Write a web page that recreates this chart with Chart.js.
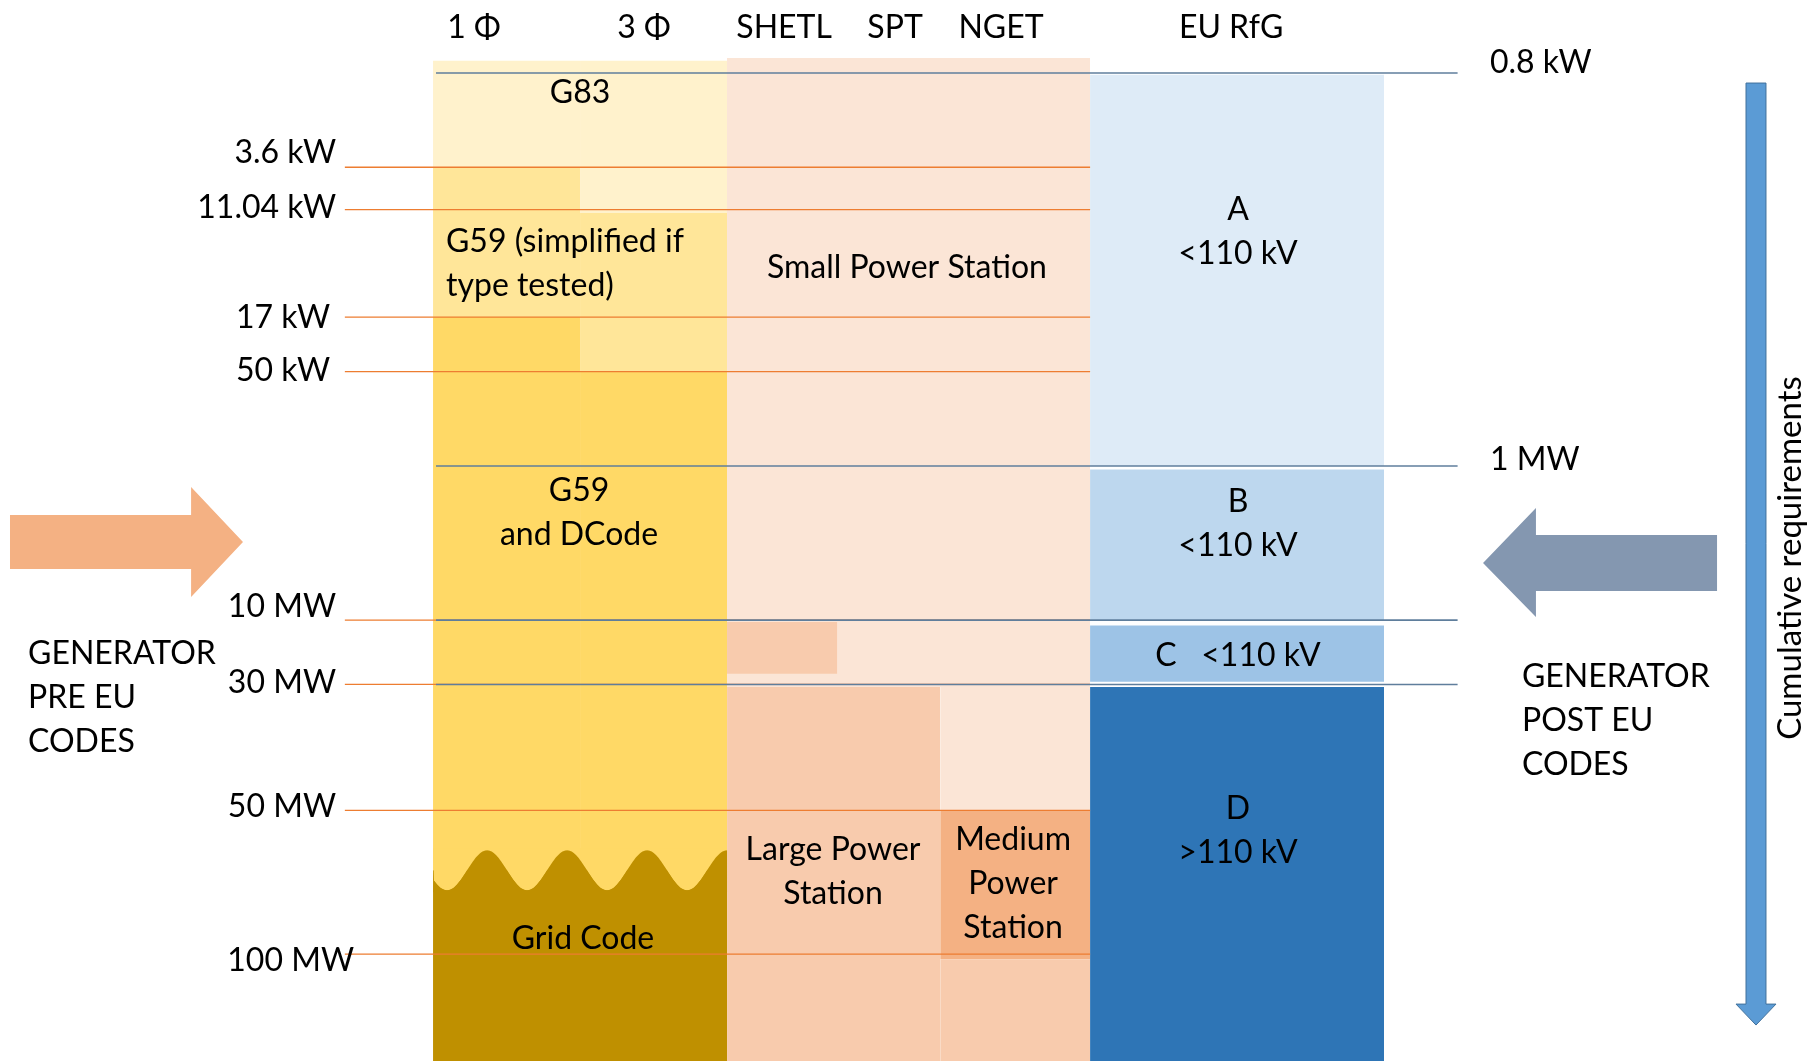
<!DOCTYPE html>
<html>
<head>
<meta charset="utf-8">
<script src="https://cdn.jsdelivr.net/npm/chart.js@4.4.1/dist/chart.umd.min.js"></script>
<style>
  html, body { margin: 0; padding: 0; background: #fff; }
  #wrap { width: 1817px; height: 1061px; }
</style>
</head>
<body>
<div id="wrap"><canvas id="codesChart" width="1817" height="1061"></canvas></div>
<script>
// Generator connection codes: GB codes vs EU RfG

// Columns (x in column units)
const columnNames = ['1 Φ', '3 Φ', 'SHETL', 'SPT', 'NGET', 'EU RfG'];
const columnStart = [0, 1, 2, 2.75, 3.45, 4.47];
const columnEnd = [1, 2, 2.75, 3.45, 4.47, 6.47];

// Capacity thresholds and their level on the vertical scale
const thresholdNames = ['0.8 kW', '3.6 kW', '11.04 kW', '17 kW', '50 kW', '1 MW', '10 MW', '30 MW', '50 MW', '100 MW'];
const thresholdLevel = [0, 1.07, 1.55, 2.77, 3.39, 4.46, 6.21, 6.94, 8.37, 10];
const gbThresholds = ['3.6 kW', '11.04 kW', '17 kW', '50 kW', '10 MW', '30 MW', '50 MW', '100 MW'];
const euThresholds = ['0.8 kW', '1 MW', '10 MW', '30 MW'];

// Requirement blocks (column range, top level, bottom level)
const blockNames = ['Small Power Station', 'SHETL 10-30 MW', 'Large Power Station', 'NGET 30-50 MW',
    'Medium Power Station', 'NGET >100 MW', 'G83 1Φ', 'G83 3Φ', 'G59 simplified 1Φ', 'G59 simplified 3Φ',
    'G59 and DCode 1Φ', 'G59 and DCode 3Φ', 'Grid Code', 'Type A', 'Type B', 'Type C', 'Type D'];
const blockColFrom = [2, 2, 2, 4, 4, 4, 0, 1, 0, 1, 0, 1, 0, 5, 5, 5, 5];
const blockColTo   = [4, 2, 3, 4, 4, 4, 0, 1, 0, 1, 0, 1, 1, 5, 5, 5, 5];
const blockTop     = [-0.17, 6.23, 6.97, 6.97, 8.37, 10.06, -0.14, -0.14, 1.07, 1.59, 2.77, 3.39, 9.05, 0.02, 4.50, 6.27, 6.97];
const blockBottom  = [6.97, 6.82, 11.22, 8.37, 10.06, 11.22, 1.07, 1.59, 2.77, 3.39, 9.05, 9.05, 11.22, 4.46, 6.22, 6.91, 11.22];
const blockColors  = ['#FBE5D6', '#F8CBAD', '#F8CBAD', '#FBE5D6', '#F4B183', '#F8CBAD', '#FFF2CC', '#FFF2CC',
    '#FFE699', '#FFE699', '#FFD966', '#FFD966', '#BF9000', '#DEEBF7', '#BDD7EE', '#9DC3E6', '#2E75B6'];

// Text placed in the diagram
const labelText = [['G83'], ['G59 (simplified if', 'type tested)'], ['Small Power Station'], ['A', '<110 kV'],
    ['G59', 'and DCode'], ['B', '<110 kV'], ['C   <110 kV'], ['D', '>110 kV'], ['Large Power', 'Station'],
    ['Medium', 'Power', 'Station'], ['Grid Code'], ['GENERATOR', 'PRE EU', 'CODES'], ['GENERATOR', 'POST EU', 'CODES']];
const labelX = [1.0, 0.088, 3.224, 5.476, 0.993, 5.476, 5.476, 5.476, 2.721, 3.946, 1.02, -2.755, 7.408];
const labelY = [0.227, 2.162, 2.213, 1.805, 4.994, 5.114, 6.617, 8.598, 9.069, 9.206, 9.83, 7.094, 7.355];
const labelAlign = ['center', 'left', 'center', 'center', 'center', 'center', 'center', 'center', 'center',
    'center', 'center', 'left', 'left'];
const headerX = [0.279, 1.435, 2.388, 3.143, 3.864, 5.429];
const headerY = -0.51;
// nudges (px) of the threshold labels relative to their lines
const thresholdLabelDy = [-10, -15, -2, 1, -1, -6, -13, -2, -4, 7];
const thresholdLabelDx = [0, 0, 0, -6, -6, 0, 0, 0, 0, 18];

const FONT = '32px Lato, "Open Sans", sans-serif';

// Region datasets, first block drawn first (highest order)
const datasets = blockNames.map((name, i) => ({
    label: name,
    data: [
        { x: columnStart[blockColFrom[i]], y: blockTop[i] },
        { x: columnEnd[blockColTo[i]], y: blockTop[i] }
    ],
    fill: { value: blockBottom[i] },
    backgroundColor: blockColors[i],
    borderColor: 'transparent',
    borderWidth: 0,
    pointRadius: 0,
    order: 1000 - i
}));

// Threshold lines
gbThresholds.forEach(name => {
    const lvl = thresholdLevel[thresholdNames.indexOf(name)];
    datasets.push({
        label: name,
        data: [{ x: -0.6, y: lvl }, { x: columnEnd[4], y: lvl }],
        borderColor: '#ED7D31',
        borderWidth: 1.3,
        pointRadius: 0,
        fill: false,
        order: 10
    });
});
euThresholds.forEach(name => {
    const lvl = thresholdLevel[thresholdNames.indexOf(name)];
    datasets.push({
        label: 'EU ' + name,
        data: [{ x: 0.02, y: lvl }, { x: 6.97, y: lvl }],
        borderColor: '#5F7E9C',
        borderWidth: 1.6,
        pointRadius: 0,
        fill: false,
        order: 5
    });
});

function polygon(ctx, x, y, pts, color, stroke) {
    ctx.beginPath();
    pts.forEach((p, k) => {
        const px = x.getPixelForValue(p[0]);
        const py = y.getPixelForValue(p[1]);
        if (k === 0) ctx.moveTo(px, py); else ctx.lineTo(px, py);
    });
    ctx.closePath();
    ctx.fillStyle = color;
    ctx.fill();
    if (stroke) {
        ctx.strokeStyle = stroke;
        ctx.lineWidth = 1;
        ctx.stroke();
    }
}

const diagramPlugin = {
    id: 'diagram',
    afterDatasetsDraw(chart) {
        const { ctx, scales: { x, y } } = chart;
        ctx.save();

        // wavy edge between G59/DCode and Grid Code
        const g = blockNames.indexOf('Grid Code');
        const x0 = x.getPixelForValue(columnStart[blockColFrom[g]]);
        const x1 = x.getPixelForValue(columnEnd[blockColTo[g]]);
        const top = y.getPixelForValue(blockTop[g]);
        const amp = 20, period = 80, phase = x0 + 54;
        const waveY = px => top - amp * Math.cos(2 * Math.PI * (px - phase) / period);
        [[-1, blockColors[g - 1]], [1, blockColors[g]]].forEach(([side, color]) => {
            ctx.beginPath();
            ctx.moveTo(x0, top + side * (amp + 2));
            ctx.lineTo(x1, top + side * (amp + 2));
            for (let px = x1; px >= x0; px -= 1) ctx.lineTo(px, waveY(px));
            ctx.closePath();
            ctx.fillStyle = color;
            ctx.fill();
        });

        // arrows
        polygon(ctx, x, y, [[-2.878, 5.017], [-1.646, 5.017], [-1.646, 4.699], [-1.293, 5.323],
            [-1.646, 5.948], [-1.646, 5.63], [-2.878, 5.63]], '#F4B183');
        polygon(ctx, x, y, [[8.735, 5.244], [7.503, 5.244], [7.503, 4.938], [7.143, 5.562],
            [7.503, 6.175], [7.503, 5.88], [8.735, 5.88]], '#8497B0');
        polygon(ctx, x, y, [[8.932, 0.114], [9.068, 0.114], [9.068, 10.568], [9.136, 10.568],
            [9.0, 10.806], [8.864, 10.568], [8.932, 10.568]], '#5B9BD5', '#41719C');

        ctx.fillStyle = '#000';
        ctx.font = FONT;
        ctx.textBaseline = 'middle';

        // column headers
        ctx.textAlign = 'center';
        columnNames.forEach((name, i) => {
            ctx.fillText(name, x.getPixelForValue(headerX[i]), y.getPixelForValue(headerY));
        });

        // threshold labels
        thresholdNames.forEach((name, i) => {
            const py = y.getPixelForValue(thresholdLevel[i]) + thresholdLabelDy[i];
            if (gbThresholds.includes(name)) {
                ctx.textAlign = 'right';
                ctx.fillText(name, x.getPixelForValue(-0.66) + thresholdLabelDx[i], py);
            } else {
                ctx.textAlign = 'left';
                ctx.fillText(name, x.getPixelForValue(7.19) + thresholdLabelDx[i], py);
            }
        });

        // block labels
        const lineHeight = 44;
        labelText.forEach((lines, i) => {
            ctx.textAlign = labelAlign[i];
            const px = x.getPixelForValue(labelX[i]);
            const py = y.getPixelForValue(labelY[i]) - (lines.length - 1) * lineHeight / 2;
            lines.forEach((t, k) => ctx.fillText(t, px, py + k * lineHeight));
        });

        // vertical caption
        ctx.translate(x.getPixelForValue(9.231), y.getPixelForValue(5.505));
        ctx.rotate(-Math.PI / 2);
        ctx.textAlign = 'center';
        ctx.font = '33px Lato, "Open Sans", sans-serif';
        ctx.fillText('Cumulative requirements', 0, 0);
        ctx.restore();
    }
};

const ctx = document.getElementById('codesChart').getContext('2d');
const codesChart = new Chart(ctx, {
    type: 'line',
    data: { datasets: datasets },
    options: {
        responsive: false,
        animation: false,
        events: [],
        layout: { padding: 0 },
        plugins: {
            legend: { display: false },
            tooltip: { enabled: false }
        },
        scales: {
            x: { type: 'linear', min: -2.946, max: 9.415, display: false },
            y: { type: 'linear', min: -0.8286, max: 11.214, reverse: true, display: false }
        }
    },
    plugins: [diagramPlugin]
});
</script>
</body>
</html>
